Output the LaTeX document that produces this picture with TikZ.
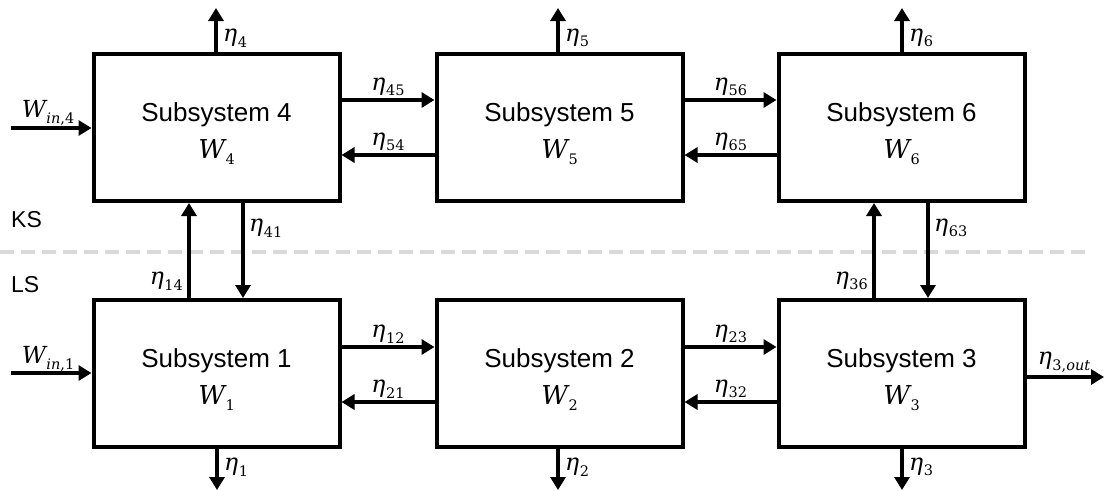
\documentclass[tikz,border=0pt]{standalone}
\usepackage{fontspec}
\setmainfont{Liberation Sans}
\newfontfamily\mf{DejaVu Serif}
\usetikzlibrary{arrows.meta}
\newcommand\sym[2]{\mbox{\mf\itshape #1\kern0.5pt\raisebox{-0.24em}{\fontsize{14.5}{15}\selectfont\upshape #2}}}
\begin{document}
\begin{tikzpicture}[x=1pt,y=-1pt,
  box/.style={draw, line width=4pt, minimum width=246pt, minimum height=147pt, inner sep=0pt},
  boxtext/.style={align=center, font=\fontsize{26}{37}\selectfont, inner sep=0pt},
  arr/.style={line width=4pt, -{Triangle[length=13pt,width=15pt]}},
  lab/.style={font=\fontsize{23.5}{28}\selectfont, inner sep=2pt},
  side/.style={font=\fontsize{23}{28}\selectfont, inner sep=0pt}]
\useasboundingbox (0,0) rectangle (1105,490);
% separator
\draw[line width=4pt, color=black!15, dash pattern=on 14pt off 7pt] (0,252) -- (1092,252);
\node[side, anchor=west] (ks) at (11,220) {KS};
\node[side, anchor=west] (ls) at (11,285) {LS};
% boxes
\node[box] (b4) at (216.5,127.5) {};
\node[box] (b5) at (559.5,127.5) {};
\node[box] (b6) at (901.5,127.5) {};
\node[box] (b1) at (216.5,373.5) {};
\node[box] (b2) at (559.5,373.5) {};
\node[box] (b3) at (901.5,373.5) {};
\node[boxtext] (x4) at ([yshift=-6pt]b4.center) {Subsystem 4\\\sym{W}{4}};
\node[boxtext] (x5) at ([yshift=-6pt]b5.center) {Subsystem 5\\\sym{W}{5}};
\node[boxtext] (x6) at ([yshift=-6pt]b6.center) {Subsystem 6\\\sym{W}{6}};
\node[boxtext] (x1) at ([yshift=-6pt]b1.center) {Subsystem 1\\\sym{W}{1}};
\node[boxtext] (x2) at ([yshift=-6pt]b2.center) {Subsystem 2\\\sym{W}{2}};
\node[boxtext] (x3) at ([yshift=-6pt]b3.center) {Subsystem 3\\\sym{W}{3}};
% free ends
\coordinate (t4) at (216,8);
\coordinate (t5) at (558,8);
\coordinate (t6) at (902,8);
\coordinate (d1) at (217,490);
\coordinate (d2) at (558,490);
\coordinate (d3) at (902,490);
\coordinate (in4) at (11,128);
\coordinate (in1) at (11,373);
\coordinate (out3) at (1104,377);
% top outputs
\draw[arr] (b4.north -| t4) -- (t4);
\draw[arr] (b5.north -| t5) -- (t5);
\draw[arr] (b6.north -| t6) -- (t6);
\node[lab, anchor=west] (l4) at (221,38) {\sym{η}{4}};
\node[lab, anchor=west] (l5) at (563,38) {\sym{η}{5}};
\node[lab, anchor=west] (l6) at (907,38) {\sym{η}{6}};
% bottom outputs
\draw[arr] (b1.south -| d1) -- (d1);
\draw[arr] (b2.south -| d2) -- (d2);
\draw[arr] (b3.south -| d3) -- (d3);
\node[lab, anchor=west] (l1) at (222,467) {\sym{η}{1}};
\node[lab, anchor=west] (l2) at (563,467) {\sym{η}{2}};
\node[lab, anchor=west] (l3) at (907,467) {\sym{η}{3}};
% inputs / output
\draw[arr] (in4) -- (b4.west |- in4);
\draw[arr] (in1) -- (b1.west |- in1);
\draw[arr] (b3.east |- out3) -- (out3);
\node[lab] (lw4) at (48,113) {\sym{W}{\itshape in\upshape,4}};
\node[lab] (lw1) at (48,359) {\sym{W}{\itshape in\upshape,1}};
\node[lab] (lo3) at (1064,362) {\sym{η}{3,\itshape out}};
% horizontal links top
\draw[arr] (b4.east |- 0,100) -- (b5.west |- 0,100) node[lab, midway, above] (l45) {\sym{η}{45}};
\draw[arr] (b5.west |- 0,155) -- (b4.east |- 0,155) node[lab, midway, above] (l54) {\sym{η}{54}};
\draw[arr] (b5.east |- 0,100) -- (b6.west |- 0,100) node[lab, midway, above] (l56) {\sym{η}{56}};
\draw[arr] (b6.west |- 0,155) -- (b5.east |- 0,155) node[lab, midway, above] (l65) {\sym{η}{65}};
% horizontal links bottom
\draw[arr] (b1.east |- 0,347) -- (b2.west |- 0,347) node[lab, midway, above] (l12) {\sym{η}{12}};
\draw[arr] (b2.west |- 0,402) -- (b1.east |- 0,402) node[lab, midway, above] (l21) {\sym{η}{21}};
\draw[arr] (b2.east |- 0,347) -- (b3.west |- 0,347) node[lab, midway, above] (l23) {\sym{η}{23}};
\draw[arr] (b3.west |- 0,402) -- (b2.east |- 0,402) node[lab, midway, above] (l32) {\sym{η}{32}};
% vertical links
\draw[arr] (b1.north -| 189,0) -- (b4.south -| 189,0);
\draw[arr] (b4.south -| 243,0) -- (b1.north -| 243,0);
\draw[arr] (b3.north -| 874,0) -- (b6.south -| 874,0);
\draw[arr] (b6.south -| 928,0) -- (b3.north -| 928,0);
\node[lab, anchor=east] (l14) at (185,281) {\sym{η}{14}};
\node[lab, anchor=west] (l41) at (247,228) {\sym{η}{41}};
\node[lab, anchor=east] (l36) at (870,281) {\sym{η}{36}};
\node[lab, anchor=west] (l63) at (932,228) {\sym{η}{63}};
\end{tikzpicture}
\end{document}
